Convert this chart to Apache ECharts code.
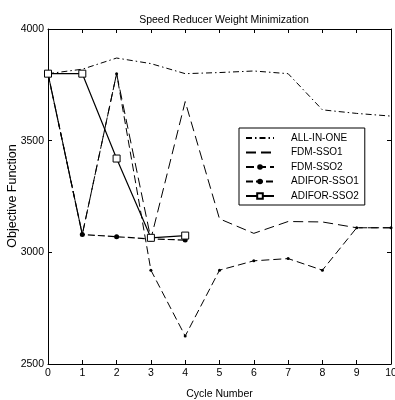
<!DOCTYPE html>
<html>
<head>
<meta charset="utf-8">
<script src="https://cdn.jsdelivr.net/npm/echarts@6/dist/echarts.min.js"></script>
<style>
  html, body { margin: 0; padding: 0; background: #fff; }
  #chart { width: 395px; height: 400px; }
</style>
</head>
<body>
<div id="chart"></div>
<script>
const cycles = [0, 1, 2, 3, 4, 5, 6, 7, 8, 9, 10];
const allInOne = [3800, 3820, 3870, 3845, 3800, 3805, 3812, 3800, 3638, 3622, 3610];
const fdmSso1 = [3800, 3080, 3800, 3060, 3675, 3150, 3085, 3138, 3136, 3110, 3110];
const fdmSso2 = [3800, 3080, 3800, 2920, 2625, 2920, 2962, 2972, 2920, 3110, 3110];
const adiforSso1 = [3800, 3080, 3070, 3060, 3055];
const adiforSso2 = [3800, 3800, 3420, 3065, 3075];
const seriesNames = ["ALL-IN-ONE", "FDM-SSO1", "FDM-SSO2", "ADIFOR-SSO1", "ADIFOR-SSO2"];

const FONT = '"Liberation Sans", Arial, sans-serif';

function pairs(values) {
  return values.map((v, i) => [cycles[i], v]);
}

const chart = echarts.init(document.getElementById("chart"), null, { renderer: "canvas" });

const axisCommon = {
  axisLine: { show: true, onZero: false, lineStyle: { color: "#000", width: 1 } },
  axisTick: { show: true, inside: true, length: 4, lineStyle: { color: "#000" } },
  splitLine: { show: false },
};

// lines without markers: hide the marker in the legend sample
const noMarker = { "ALL-IN-ONE": true, "FDM-SSO1": true };

chart.setOption({
  animation: false,
  backgroundColor: "#fff",
  title: {
    text: "Speed Reducer Weight Minimization",
    left: 219,
    textAlign: "center",
    top: 10,
    textStyle: { fontFamily: FONT, fontSize: 10.5, fontWeight: "normal", color: "#000" },
  },
  grid: { left: 48, right: 4, top: 29, bottom: 36, containLabel: false, outerBoundsMode: "none" },
  graphic: [
    {
      type: "text",
      x: 13,
      y: 196,
      rotation: Math.PI / 2,
      style: {
        text: "Objective Function",
        fontFamily: FONT,
        fontSize: 12.5,
        fill: "#000",
        align: "center",
        verticalAlign: "middle",
      },
    },
  ],
  legend: {
    orient: "vertical",
    left: 239,
    top: 128,
    padding: [5, 6, 4, 6],
    itemGap: 4.5,
    itemWidth: 28,
    itemHeight: 7,
    borderColor: "#000",
    borderWidth: 1,
    backgroundColor: "#fff",
    textStyle: { fontFamily: FONT, fontSize: 10, lineHeight: 10, color: "#000", padding: [0, 0, 0, 12] },
    data: seriesNames.map((name) =>
      noMarker[name] ? { name: name, itemStyle: { opacity: 0 } } : { name: name }
    ),
  },
  xAxis: [
    {
      type: "value",
      min: 0,
      max: 10,
      interval: 1,
      name: "Cycle Number",
      nameLocation: "middle",
      nameGap: 25,
      nameTextStyle: { fontFamily: FONT, fontSize: 10.5, color: "#000" },
      axisLabel: { fontFamily: FONT, fontSize: 10.5, color: "#000", margin: 4 },
      ...axisCommon,
    },
    {
      type: "value",
      position: "top",
      min: 0,
      max: 10,
      interval: 1,
      axisLabel: { show: false },
      ...axisCommon,
    },
  ],
  yAxis: [
    {
      type: "value",
      min: 2500,
      max: 4000,
      interval: 500,
      axisLabel: { fontFamily: FONT, fontSize: 10.5, color: "#000", margin: 4, formatter: (v) => String(v) },
      ...axisCommon,
    },
    {
      type: "value",
      position: "right",
      min: 2500,
      max: 4000,
      interval: 500,
      axisLabel: { show: false },
      ...axisCommon,
    },
  ],
  series: [
    {
      name: "ALL-IN-ONE",
      type: "line",
      data: pairs(allInOne),
      symbol: "none",
      lineStyle: { color: "#000", width: 1, type: [6, 3, 1.5, 3] },
      itemStyle: { color: "#000" },
    },
    {
      name: "FDM-SSO1",
      type: "line",
      data: pairs(fdmSso1),
      symbol: "none",
      lineStyle: { color: "#000", width: 1, type: [10, 5] },
      itemStyle: { color: "#000" },
    },
    {
      name: "FDM-SSO2",
      type: "line",
      data: pairs(fdmSso2),
      symbol: "circle",
      symbolSize: 3,
      lineStyle: { color: "#000", width: 1, type: [8, 4] },
      itemStyle: { color: "#000" },
    },
    {
      name: "ADIFOR-SSO1",
      type: "line",
      data: pairs(adiforSso1),
      symbol: "circle",
      symbolSize: 5,
      lineStyle: { color: "#000", width: 1.2, type: [7, 3] },
      itemStyle: { color: "#000" },
    },
    {
      name: "ADIFOR-SSO2",
      type: "line",
      data: pairs(adiforSso2),
      symbol: "rect",
      symbolSize: 7,
      lineStyle: { color: "#000", width: 1.2, type: "solid" },
      itemStyle: { color: "#fff", borderColor: "#000", borderWidth: 1 },
    },
  ],
});
</script>
</body>
</html>
